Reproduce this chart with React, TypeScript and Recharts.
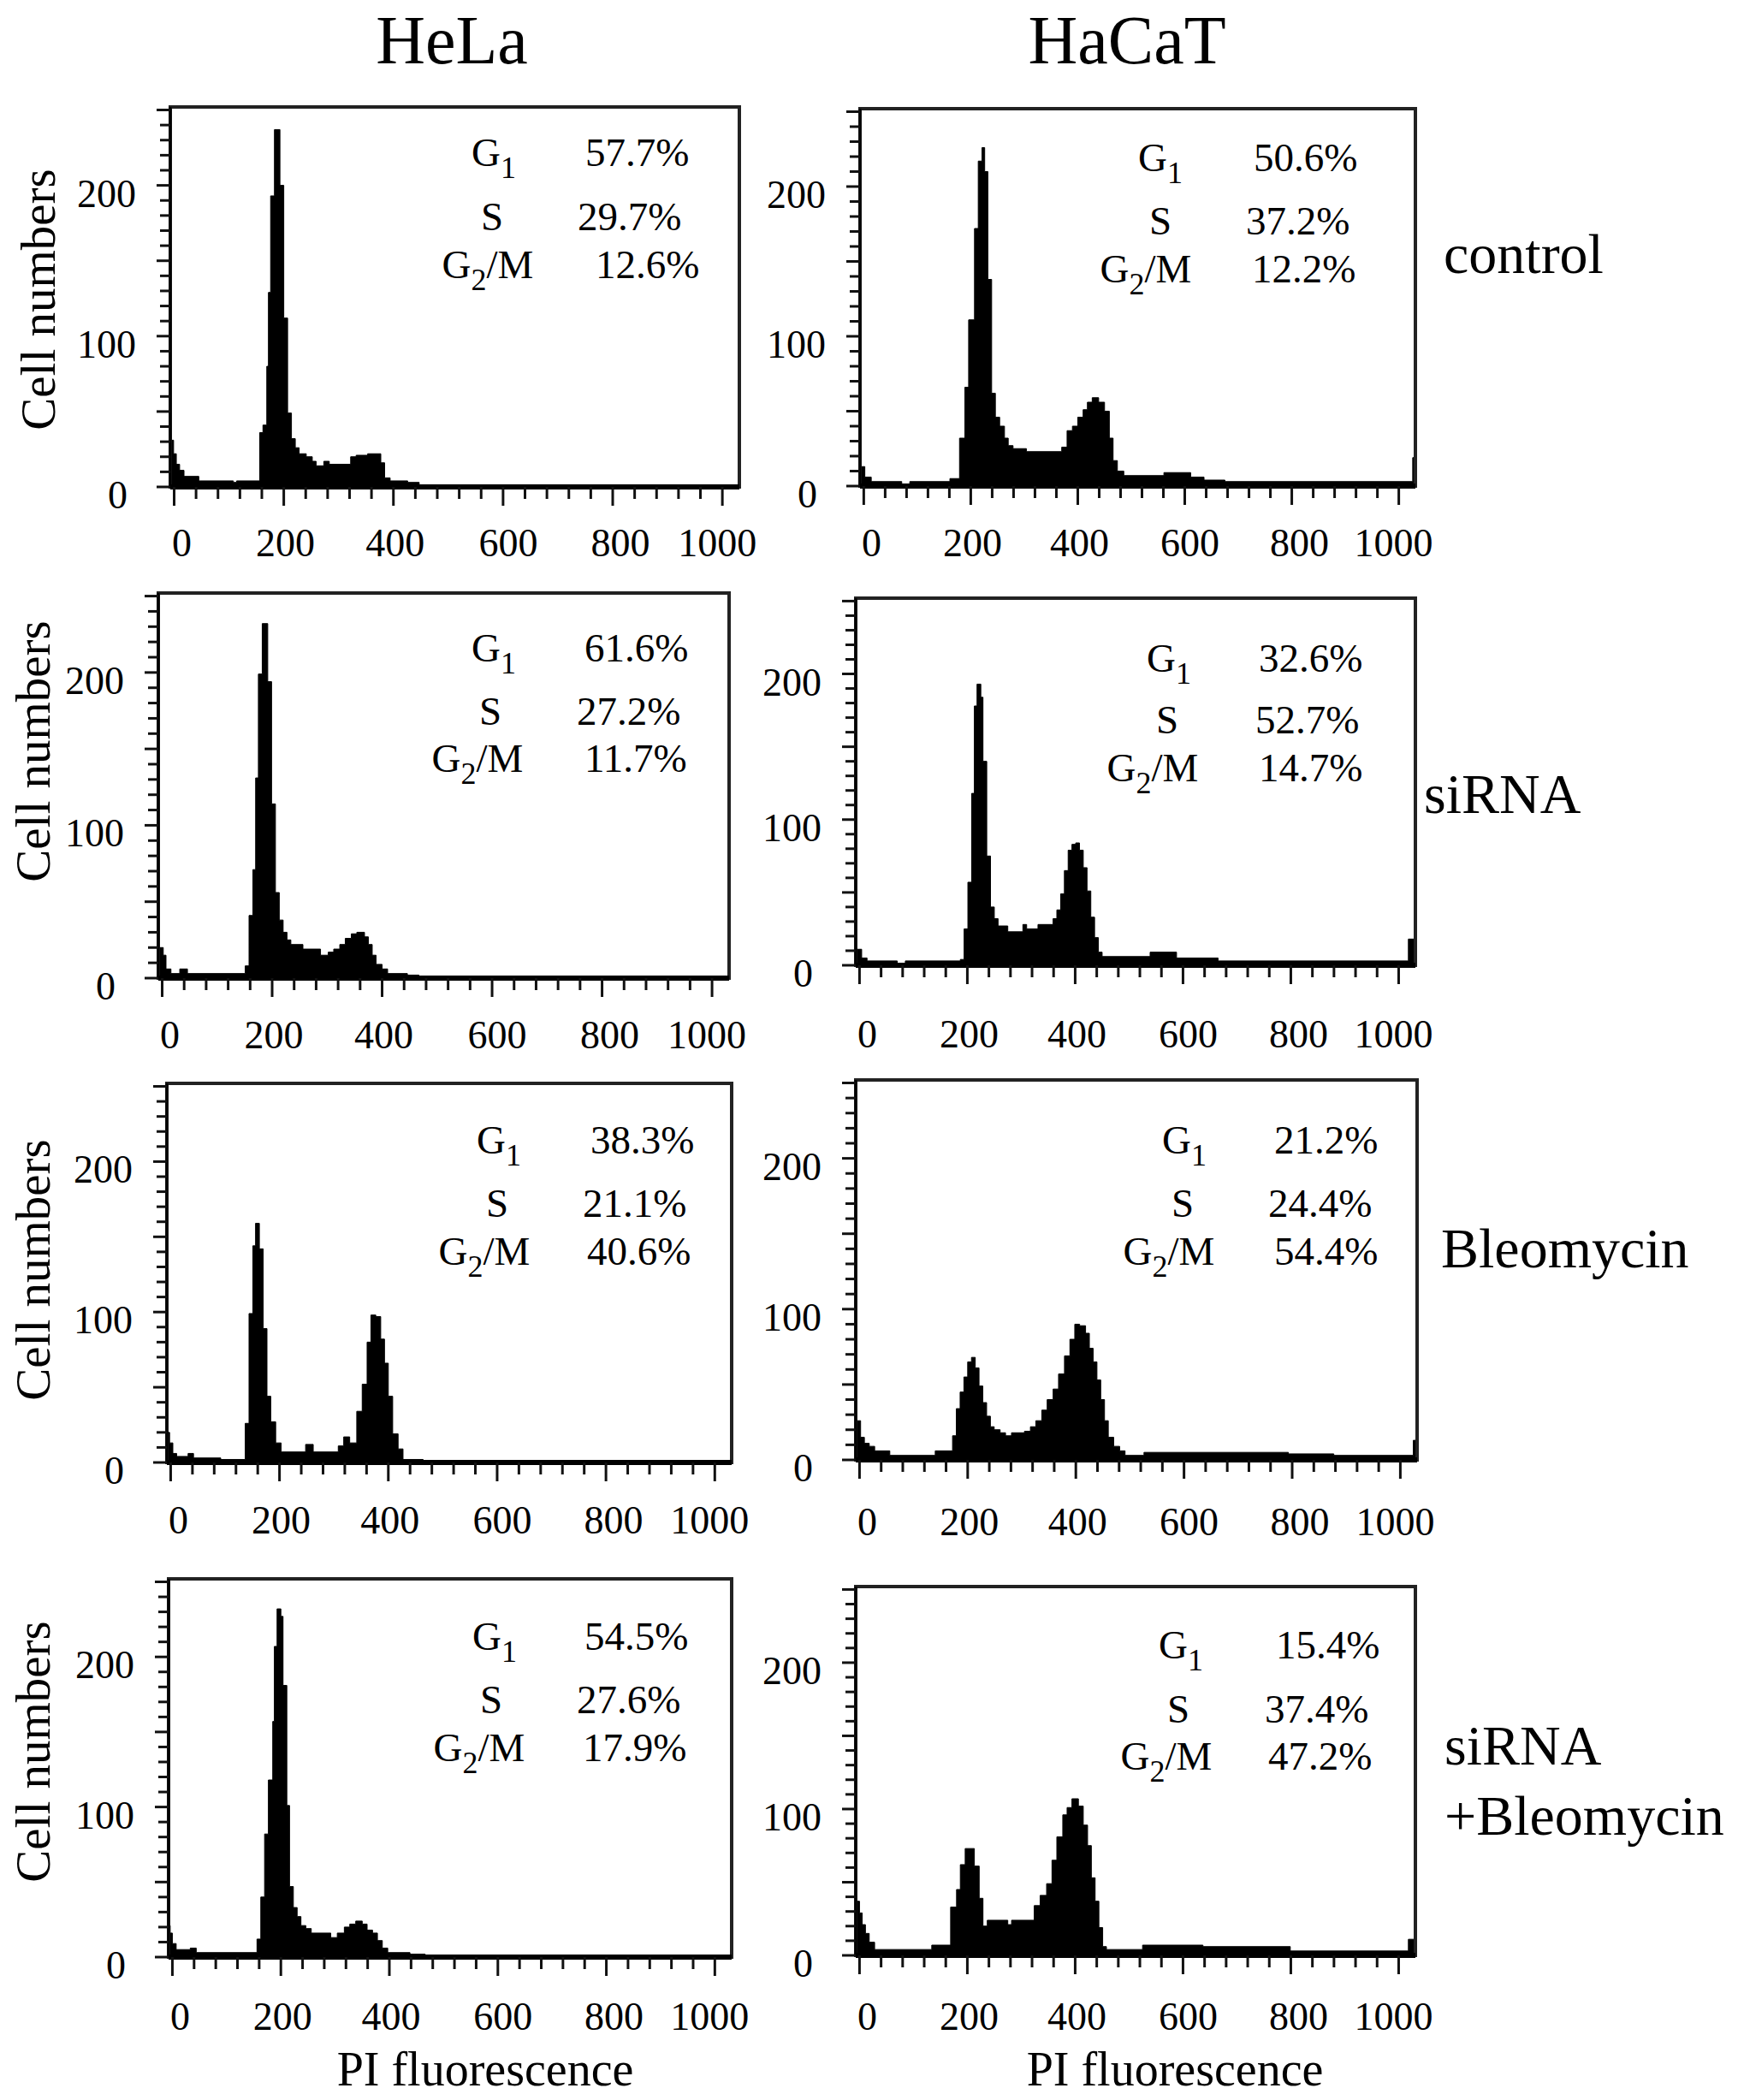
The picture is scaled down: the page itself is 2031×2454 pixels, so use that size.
import React from "react";
import { Area, AreaChart, ReferenceArea, XAxis, YAxis } from "recharts";

// histogram steps: [channel where the step starts, cell count]
const helaControl = [
  [-7, 31], [-1, 22], [4, 15], [10, 11], [18, 7], [45, 4], [108, 3], [114, 4],
  [156, 36], [162, 41], [169, 80], [172, 129], [176, 193], [183, 237], [193, 200],
  [200, 112], [207, 49], [214, 32], [221, 26], [228, 22], [241, 20], [252, 17],
  [259, 14], [273, 17], [283, 15], [322, 20], [332, 21], [353, 22], [377, 16],
  [384, 6], [394, 4], [426, 3], [447, 1], [470, 0], [1031, 0],
];
const hacatControl = [
  [-7, 13], [2, 6], [14, 3], [71, 0], [86, 3], [161, 5], [179, 32], [189, 66],
  [196, 111], [207, 172], [214, 217], [221, 226], [226, 210], [232, 138], [239, 62],
  [246, 46], [254, 40], [263, 32], [270, 27], [279, 25], [304, 23], [370, 26],
  [380, 37], [390, 40], [400, 46], [410, 51], [418, 56], [427, 59], [439, 56],
  [450, 50], [459, 32], [466, 17], [474, 10], [486, 7], [561, 9], [611, 6],
  [636, 4], [675, 3], [1026, 19], [1031, 19],
];
const helaSirna = [
  [-7, 20], [2, 15], [7, 6], [16, 3], [32, 6], [46, 3], [151, 8], [158, 41],
  [165, 71], [170, 131], [175, 199], [182, 232], [192, 194], [199, 114], [206, 56],
  [213, 38], [220, 30], [227, 25], [234, 22], [256, 19], [288, 15], [302, 17],
  [312, 19], [323, 22], [333, 26], [344, 29], [354, 30], [368, 27], [375, 22],
  [382, 15], [389, 9], [400, 6], [410, 3], [446, 2], [467, 0], [1031, 0],
];
const hacatSirna = [
  [-7, 11], [4, 5], [14, 3], [70, 0], [85, 3], [187, 4], [194, 25], [201, 57],
  [208, 118], [213, 178], [218, 193], [225, 184], [229, 140], [236, 75], [243, 40],
  [250, 32], [257, 27], [275, 23], [303, 28], [310, 25], [331, 28], [359, 32],
  [366, 38], [373, 49], [380, 65], [387, 79], [394, 83], [401, 84], [408, 79],
  [415, 67], [422, 51], [429, 33], [436, 19], [443, 9], [450, 6], [539, 9],
  [588, 5], [665, 3], [1018, 18], [1031, 18],
];
const helaBleo = [
  [-7, 20], [-2, 13], [4, 6], [11, 4], [32, 6], [42, 3], [92, 2], [137, 26],
  [144, 99], [151, 144], [156, 159], [163, 142], [170, 89], [177, 44], [184, 27],
  [193, 13], [203, 7], [248, 12], [262, 7], [308, 11], [318, 17], [329, 13],
  [342, 34], [352, 52], [361, 80], [368, 98], [377, 97], [386, 82], [393, 66],
  [400, 44], [408, 19], [418, 9], [427, 2], [464, 0], [1031, 0],
];
const hacatBleo = [
  [-7, 26], [2, 15], [9, 11], [18, 9], [28, 6], [56, 3], [140, 6], [172, 16],
  [179, 34], [186, 45], [193, 55], [200, 65], [207, 68], [214, 61], [221, 49],
  [228, 38], [235, 29], [242, 22], [249, 20], [260, 18], [270, 16], [281, 18],
  [305, 19], [316, 22], [326, 26], [337, 33], [347, 40], [358, 47], [368, 57],
  [379, 69], [389, 80], [398, 90], [407, 89], [418, 84], [425, 74], [432, 65],
  [439, 53], [446, 40], [453, 26], [460, 15], [470, 9], [481, 6], [491, 3],
  [526, 5], [793, 4], [877, 3], [1024, 13], [1031, 13],
];
const helaSirnaBleo = [
  [-7, 21], [-4, 16], [0, 9], [7, 5], [33, 6], [44, 3], [156, 12], [163, 40],
  [170, 82], [177, 118], [185, 157], [188, 207], [193, 232], [200, 227], [204, 181],
  [211, 101], [216, 47], [223, 33], [230, 27], [237, 21], [246, 19], [256, 16],
  [292, 13], [304, 16], [317, 20], [327, 22], [338, 24], [350, 22], [359, 18],
  [369, 16], [378, 11], [387, 6], [397, 3], [438, 2], [466, 0], [1031, 0],
];
const hacatSirnaBleo = [
  [-7, 37], [0, 29], [5, 21], [11, 15], [18, 9], [28, 4], [134, 7], [169, 33],
  [180, 45], [187, 62], [196, 73], [213, 61], [222, 39], [229, 20], [237, 24],
  [275, 21], [282, 24], [324, 34], [335, 41], [347, 49], [357, 65], [366, 81],
  [377, 96], [385, 101], [394, 107], [406, 102], [415, 89], [423, 75], [430, 53],
  [437, 37], [444, 19], [451, 6], [458, 4], [525, 7], [637, 6], [799, 3],
  [1018, 11], [1031, 11],
];

// cell-cycle fractions, G1 / S / G2-M
const helaControlPct = ["57.7%", "29.7%", "12.6%"];
const hacatControlPct = ["50.6%", "37.2%", "12.2%"];
const helaSirnaPct = ["61.6%", "27.2%", "11.7%"];
const hacatSirnaPct = ["32.6%", "52.7%", "14.7%"];
const helaBleoPct = ["38.3%", "21.1%", "40.6%"];
const hacatBleoPct = ["21.2%", "24.4%", "54.4%"];
const helaSirnaBleoPct = ["54.5%", "27.6%", "17.9%"];
const hacatSirnaBleoPct = ["15.4%", "37.4%", "47.2%"];

const columnTitles = ["HeLa", "HaCaT"];
const rowLabels = [["control"], ["siRNA"], ["Bleomycin"], ["siRNA", "+Bleomycin"]];
const xTicks = [0, 40, 80, 120, 160, 200, 240, 280, 320, 360, 400, 440, 480, 520, 560,
  600, 640, 680, 720, 760, 800, 840, 880, 920, 960, 1000];
const xLabelled = [0, 200, 400, 600, 800, 1000];
const yTicks = [0, 10, 20, 30, 40, 50, 60, 70, 80, 90, 100, 110, 120, 130, 140, 150,
  160, 170, 180, 190, 200, 210, 220, 230, 240, 250];
const yLabelled = [0, 100, 200];
const yAxisLabel = "Cell numbers";
const xAxisLabel = "PI fluorescence";

const X_DOMAIN = [-7, 1031];
const Y_DOMAIN = [0, 252];
const FONT = "'Liberation Serif', 'Times New Roman', serif";

// plot-box geometry for each panel (left, right, top, bottom), tick-label drop,
// and where its text block sits
const panels = [
  { data: helaControl, pct: helaControlPct, box: [199, 864, 125, 569], xl: 81,
    lx: [577, 575, 570], vx: [684, 675, 696], by: [194, 269, 325] },
  { data: hacatControl, pct: hacatControlPct, box: [1005, 1654, 127, 568], xl: 82,
    lx: [1356, 1356, 1339], vx: [1465, 1456, 1463], by: [200, 274, 330] },
  { data: helaSirna, pct: helaSirnaPct, box: [185, 852, 693, 1143], xl: 82,
    lx: [577, 573, 558], vx: [683, 674, 683], by: [773, 847, 902] },
  { data: hacatSirna, pct: hacatSirnaPct, box: [1000, 1654, 699, 1128], xl: 96,
    lx: [1366, 1364, 1347], vx: [1471, 1467, 1471], by: [785, 857, 913] },
  { data: helaBleo, pct: helaBleoPct, box: [195, 855, 1266, 1709], xl: 83,
    lx: [583, 581, 566], vx: [690, 681, 686], by: [1348, 1422, 1478] },
  { data: hacatBleo, pct: hacatBleoPct, box: [1000, 1656, 1262, 1706], xl: 88,
    lx: [1384, 1382, 1366], vx: [1489, 1482, 1489], by: [1348, 1422, 1478] },
  { data: helaSirnaBleo, pct: helaSirnaBleoPct, box: [197, 855, 1845, 2287], xl: 85,
    lx: [578, 574, 560], vx: [683, 674, 681], by: [1928, 2002, 2058] },
  { data: hacatSirnaBleo, pct: hacatSirnaBleoPct, box: [1000, 1654, 1854, 2285], xl: 87,
    lx: [1380, 1377, 1363], vx: [1491, 1478, 1482], by: [1938, 2013, 2068] },
];

const labelShift: Record<number, number> = { 0: 9, 200: 2, 400: 2, 600: 6, 800: 9, 1000: -6 };

function XTick(props: any) {
  const { x, y, payload, drop } = props;
  const v = payload.value;
  const major = xLabelled.includes(v);
  return (
    <g>
      <line x1={x} x2={x} y1={y} y2={y + (major ? 22 : 14)} stroke="#111" strokeWidth={3} />
      {major && (
        <text x={x + (labelShift[v] || 0)} y={y + drop} textAnchor="middle" fontSize={46}
          fontFamily={FONT} fill="#000">
          {v}
        </text>
      )}
    </g>
  );
}

function YTick(props: any) {
  const { x, y, payload } = props;
  const v = payload.value;
  return (
    <g>
      <line x1={x} x2={x - (v % 50 === 0 ? 16 : 12)} y1={y} y2={y} stroke="#111" strokeWidth={3} />
      {yLabelled.includes(v) && (
        <text x={x - (v === 0 ? 50 : 40)} y={y + 25} textAnchor="end" fontSize={46}
          fontFamily={FONT} fill="#000">
          {v}
        </text>
      )}
    </g>
  );
}

function Panel({ data, box, xl }: { data: number[][]; box: number[]; xl: number }) {
  const [left, right, top, bottom] = box;
  const L = 140, T = 20, R = 80, B = 120;
  const rows = data.map(([x, y]) => ({ x, y }));
  return (
    <div style={{ position: "absolute", left: left - L, top: top - T }}>
      <AreaChart width={right - left + L + R} height={bottom - top + T + B} data={rows}
        margin={{ top: T, right: R, bottom: 0, left: 0 }}>
        <XAxis type="number" dataKey="x" domain={X_DOMAIN} allowDataOverflow ticks={xTicks}
          interval={0} tick={(p: any) => <XTick {...p} drop={xl} />} tickLine={false}
          tickSize={0} tickMargin={0} height={B} axisLine={{ stroke: "#000", strokeWidth: 6 }} />
        <YAxis type="number" domain={Y_DOMAIN} allowDataOverflow ticks={yTicks} interval={0}
          tick={(p: any) => <YTick {...p} />} tickLine={false} tickSize={0} tickMargin={0}
          width={L} axisLine={{ stroke: "#000", strokeWidth: 3 }} />
        <Area type="stepAfter" dataKey="y" stroke="#000" strokeWidth={1} fill="#000"
          fillOpacity={1} dot={false} activeDot={false} isAnimationActive={false} />
        <ReferenceArea x1={X_DOMAIN[0]} x2={X_DOMAIN[1]} y1={Y_DOMAIN[0]} y2={Y_DOMAIN[1]}
          fill="none" fillOpacity={0} stroke="#222" strokeWidth={4} ifOverflow="visible" />
      </AreaChart>
    </div>
  );
}

function PhaseText({ p }: { p: (typeof panels)[number] }) {
  const common = { fontFamily: FONT, fontSize: 47, fill: "#000" };
  return (
    <g>
      <text x={p.lx[0]} y={p.by[0]} textAnchor="middle" {...common}>
        G<tspan fontSize={36} dy={14}>1</tspan>
      </text>
      <text x={p.lx[1]} y={p.by[1]} textAnchor="middle" {...common}>S</text>
      <text x={p.lx[2]} y={p.by[2]} textAnchor="middle" {...common}>
        G<tspan fontSize={36} dy={14}>2</tspan><tspan dy={-14}>/M</tspan>
      </text>
      {p.pct.map((t, i) => (
        <text key={i} x={p.vx[i]} y={p.by[i]} {...common}>{t}</text>
      ))}
    </g>
  );
}

export default function App() {
  const yLabelPos = [[64, 350], [58, 878], [58, 1484], [58, 2047]];
  const rowLabelPos = [[1687, 319], [1664, 950], [1684, 1481], [1688, 2062]];
  return (
    <div style={{ position: "absolute", left: 0, top: 0, width: 2031, height: 2454,
      background: "#fff", overflow: "hidden" }}>
      {panels.map((p, i) => (
        <Panel key={i} data={p.data} box={p.box} xl={p.xl} />
      ))}
      <svg width={2031} height={2454}
        style={{ position: "absolute", left: 0, top: 0, pointerEvents: "none" }}>
        <text x={528} y={74} textAnchor="middle" fontFamily={FONT} fontSize={80}>
          {columnTitles[0]}
        </text>
        <text x={1317} y={74} textAnchor="middle" fontFamily={FONT} fontSize={80}>
          {columnTitles[1]}
        </text>
        {rowLabels.map((lines, i) =>
          lines.map((t, j) => (
            <text key={i + "-" + j} x={rowLabelPos[i][0]} y={rowLabelPos[i][1] + j * 82}
              fontFamily={FONT} fontSize={66}>
              {t}
            </text>
          ))
        )}
        {yLabelPos.map(([x, y], i) => (
          <text key={i} transform={`translate(${x},${y}) rotate(-90)`} textAnchor="middle"
            fontFamily={FONT} fontSize={57}>
            {yAxisLabel}
          </text>
        ))}
        <text x={567} y={2437} textAnchor="middle" fontFamily={FONT} fontSize={56}>
          {xAxisLabel}
        </text>
        <text x={1373} y={2437} textAnchor="middle" fontFamily={FONT} fontSize={56}>
          {xAxisLabel}
        </text>
        {panels.map((p, i) => (
          <PhaseText key={i} p={p} />
        ))}
      </svg>
    </div>
  );
}
